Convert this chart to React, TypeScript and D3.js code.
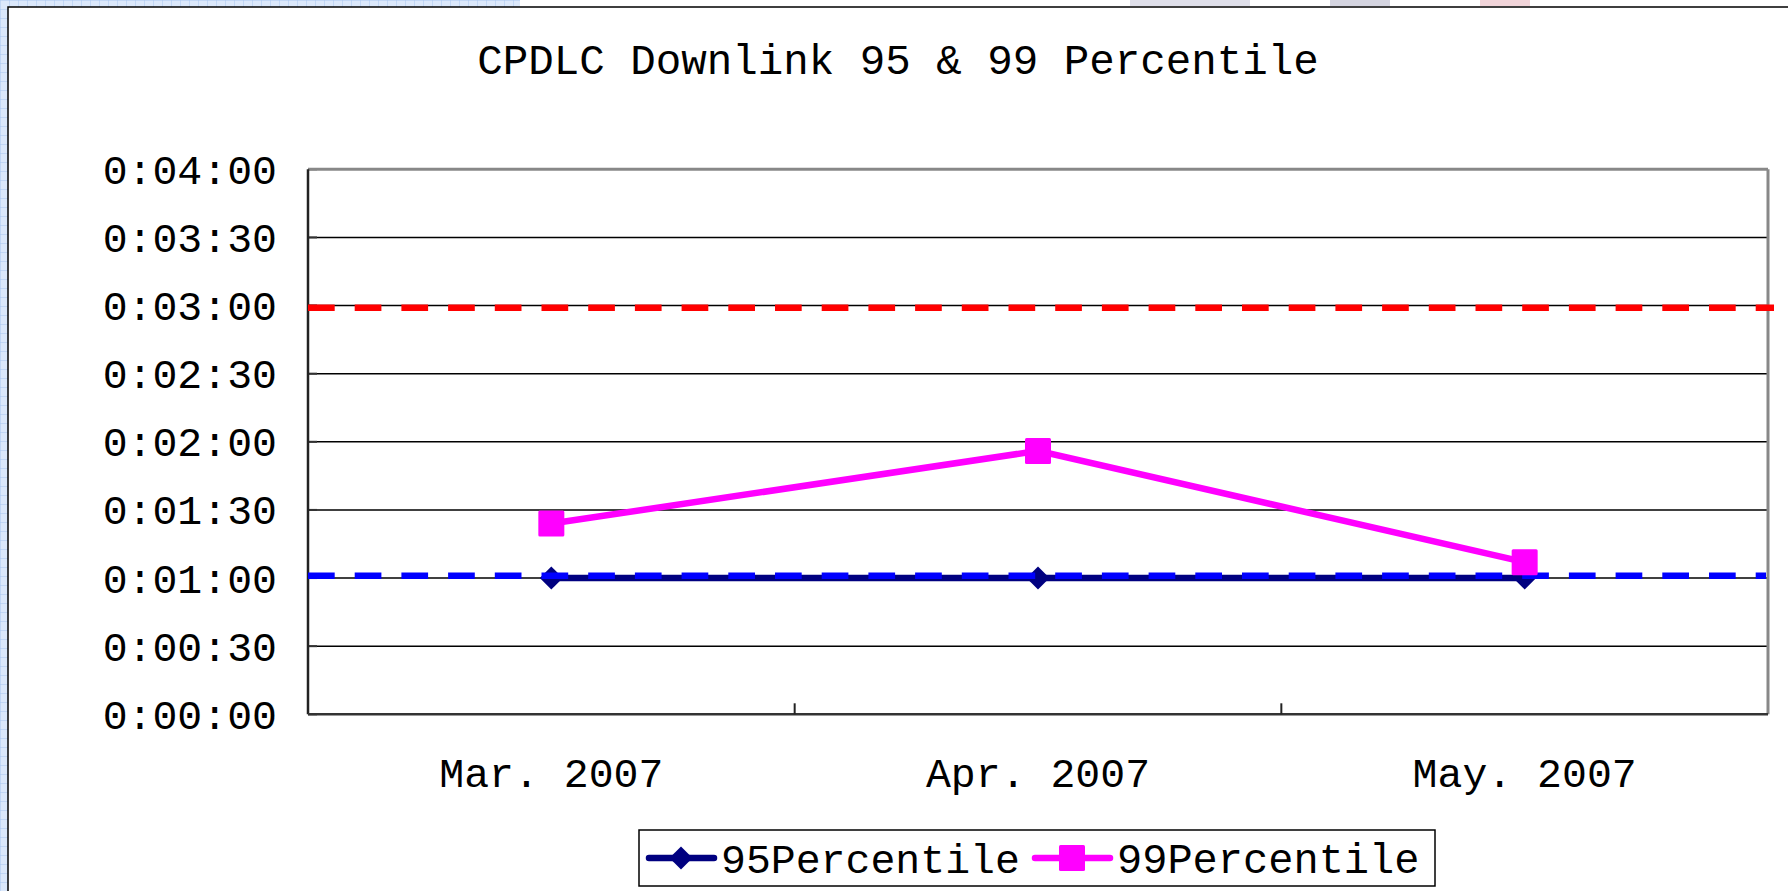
import React from 'react';
import * as d3 from 'd3';

// values in seconds
const months = ['Mar. 2007', 'Apr. 2007', 'May. 2007'];
const p95 = [60, 60, 60];
const p99 = [84, 116, 67];
const yTicks = [0, 30, 60, 90, 120, 150, 180, 210, 240];
const limit99 = 179;
const limit95 = 61;

const W = 1788;
const H = 891;
const FONT = '"Liberation Mono", "DejaVu Sans Mono", monospace';

const fmt = (s: number) => {
  const h = Math.floor(s / 3600);
  const m = Math.floor((s % 3600) / 60);
  const sec = s % 60;
  return `${h}:${String(m).padStart(2, '0')}:${String(sec).padStart(2, '0')}`;
};

const App = () => {
  const left = 308, right = 1768, top = 169.3, bottom = 714.3;

  const x = d3.scaleBand().domain(months).range([left, right]).padding(0);
  const y = d3.scaleLinear().domain([0, 240]).range([bottom, top]);
  const cx = (m: string) => (x(m) as number) + x.bandwidth() / 2;

  const line = d3.line<number>()
    .x((_, i) => cx(months[i]))
    .y(d => y(d));

  const diamond = d3.symbol().type(d3.symbolDiamond2).size(340);

  // legend layout
  const legY = 858;

  return (
    <svg width={W} height={H} style={{ position: 'absolute', left: 0, top: 0, background: '#fff' }}>
      <defs>
        <pattern id="grid" width="9" height="9" patternUnits="userSpaceOnUse">
          <rect width="9" height="9" fill="#dbe8fb" />
          <path d="M9 0 L0 0 0 9" fill="none" stroke="#a9c6ef" strokeWidth="1" />
        </pattern>
        <clipPath id="blueClip">
          <rect x={left} y={top - 10} width={right - left - 2} height={bottom - top + 20} />
        </clipPath>
      </defs>

      {/* page background bits */}
      <rect x={0} y={0} width={8} height={H} fill="url(#grid)" />
      <rect x={0} y={0} width={520} height={7} fill="url(#grid)" />
      <rect x={1130} y={0} width={120} height={6} fill="#c9c9dc" opacity={0.6} />
      <rect x={1330} y={0} width={60} height={6} fill="#b8b8cc" opacity={0.6} />
      <rect x={1480} y={0} width={50} height={6} fill="#e8b8c0" opacity={0.6} />
      <rect x={8} y={7} width={W} height={H} fill="#fff" stroke="#000" strokeWidth={1.5} />

      {/* title */}
      <text x={898} y={74} textAnchor="middle" fontFamily={FONT} fontSize={42.5} fill="#000">
        CPDLC Downlink 95 &amp; 99 Percentile
      </text>

      {/* gridlines */}
      {yTicks.filter(t => t > 0 && t < 240).map(t => (
        <line key={t} x1={left} x2={right} y1={y(t)} y2={y(t)} stroke="#000" strokeWidth={1.5} />
      ))}
      {yTicks.map(t => (
        <line key={'yt' + t} x1={left} x2={left + 9} y1={y(t)} y2={y(t)} stroke="#333" strokeWidth={2} />
      ))}

      {/* plot frame */}
      <line x1={left} x2={right} y1={top} y2={top} stroke="#888" strokeWidth={3} />
      <line x1={right} x2={right} y1={top} y2={bottom} stroke="#888" strokeWidth={3} />
      <line x1={left} x2={left} y1={top} y2={bottom} stroke="#222" strokeWidth={2.5} />
      <line x1={left} x2={right} y1={bottom} y2={bottom} stroke="#333" strokeWidth={2.5} />
      {months.slice(1).map(m => (
        <line key={m} x1={x(m)} x2={x(m)} y1={bottom} y2={bottom - 11} stroke="#222" strokeWidth={2} />
      ))}

      {/* y labels */}
      {yTicks.map(t => (
        <text key={'yl' + t} x={277} y={y(t)} dy="0.35em" textAnchor="end" fontFamily={FONT} fontSize={41.5} fill="#000">
          {fmt(t)}
        </text>
      ))}

      {/* x labels */}
      {months.map(m => (
        <text key={'xl' + m} x={cx(m)} y={787} textAnchor="middle" fontFamily={FONT} fontSize={41.5} fill="#000">
          {m}
        </text>
      ))}

      {/* 95 percentile */}
      <path d={line(p95) as string} fill="none" stroke="#000080" strokeWidth={6.5} />
      {p95.map((v, i) => (
        <path key={'d' + i} d={diamond() as string} transform={`translate(${cx(months[i])},${y(v)})`} fill="#000080" />
      ))}

      {/* limit lines */}
      <g clipPath="url(#blueClip)">
        <line x1={left} x2={right} y1={y(limit95)} y2={y(limit95)} stroke="#0000ff" strokeWidth={6.5} strokeDasharray="26.7 20" />
      </g>
      <line x1={left} x2={1774} y1={y(limit99)} y2={y(limit99)} stroke="#ff0000" strokeWidth={6.5} strokeDasharray="26.7 20" />

      {/* 99 percentile */}
      <path d={line(p99) as string} fill="none" stroke="#ff00ff" strokeWidth={6.5} />
      {p99.map((v, i) => (
        <rect key={'s' + i} x={cx(months[i]) - 13} y={y(v) - 13} width={26} height={26} rx={1.5} fill="#ff00ff" />
      ))}

      {/* legend */}
      <rect x={639} y={830} width={796} height={56} fill="#fff" stroke="#000" strokeWidth={1.5} />
      <line x1={649} x2={714} y1={legY} y2={legY} stroke="#000080" strokeWidth={6.5} strokeLinecap="round" />
      <path d={diamond() as string} transform={`translate(681,${legY})`} fill="#000080" />
      <text x={721} y={legY} dy="0.35em" fontFamily={FONT} fontSize={41.5} fill="#000">95Percentile</text>
      <line x1={1035} x2={1110} y1={legY} y2={legY} stroke="#ff00ff" strokeWidth={6.5} strokeLinecap="round" />
      <rect x={1059} y={legY - 13} width={26} height={26} rx={1.5} fill="#ff00ff" />
      <text x={1117} y={legY} dy="0.35em" fontFamily={FONT} fontSize={42} fill="#000">99Percentile</text>
    </svg>
  );
};

export default App;
